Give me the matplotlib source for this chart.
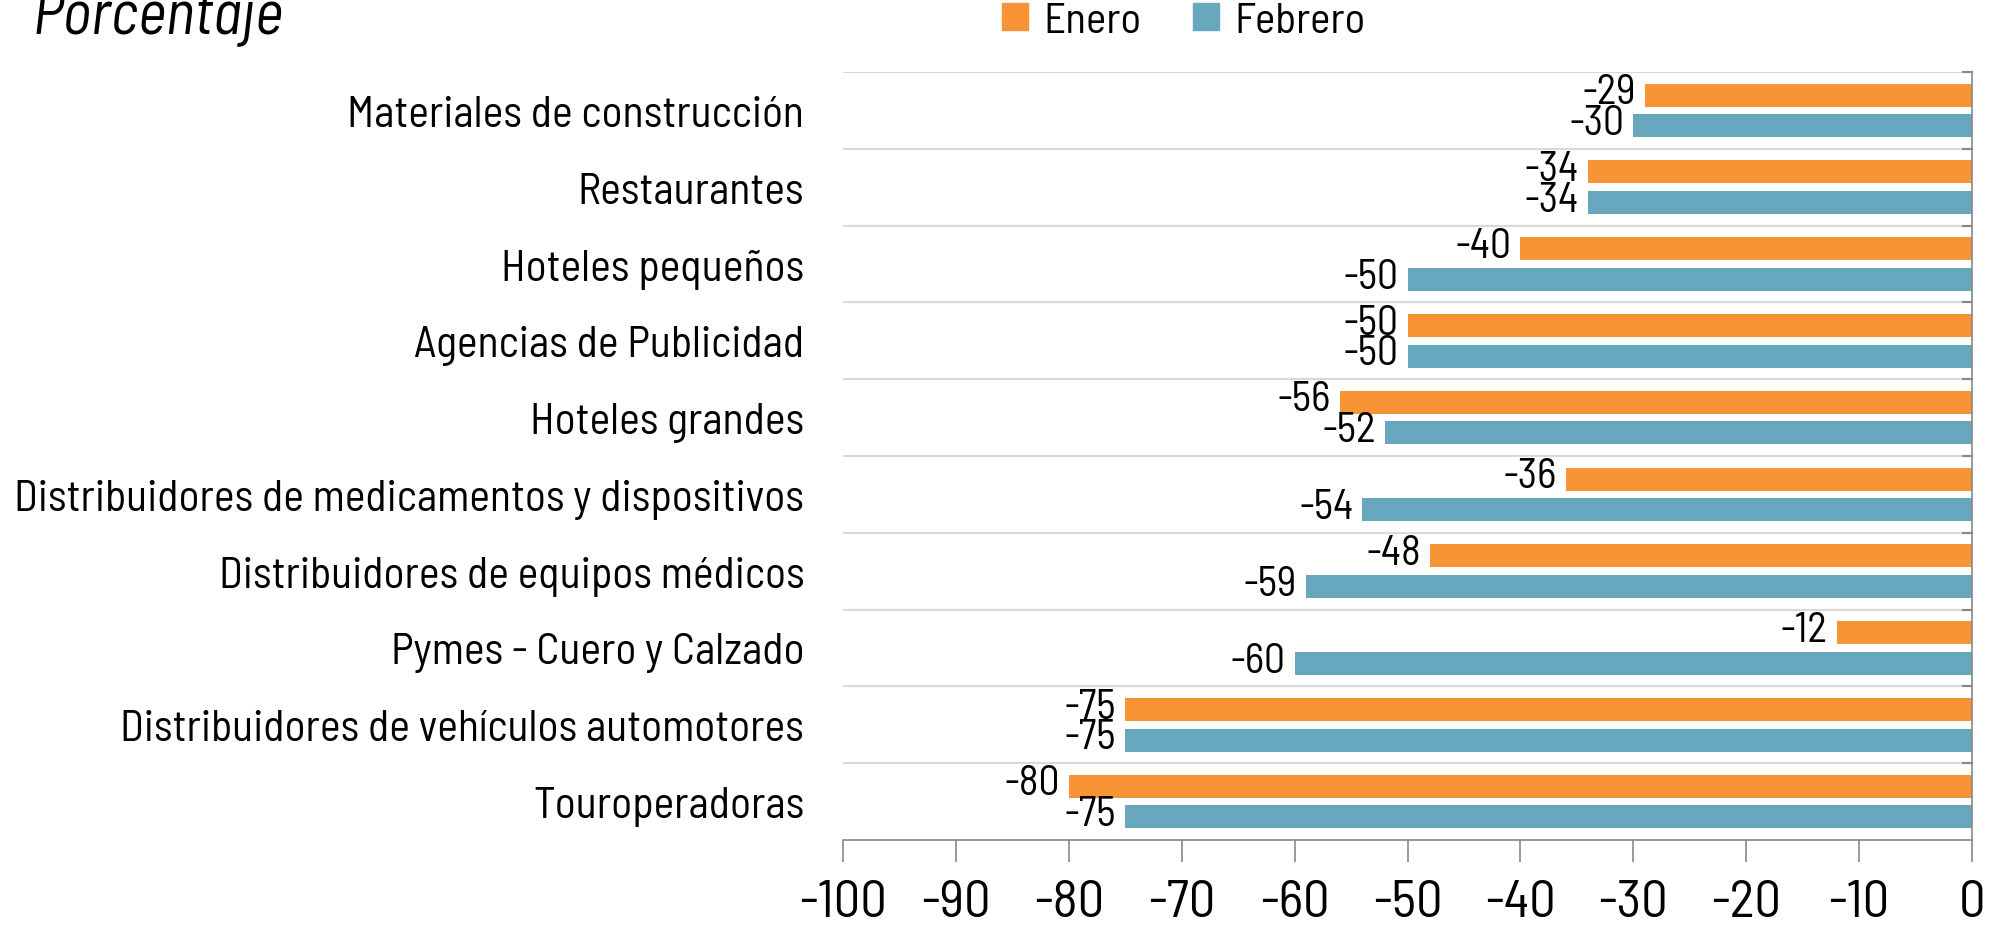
import numpy as np
import matplotlib.pyplot as plt
from matplotlib.patches import Patch

plt.rcParams['font.family'] = ['Barlow Semi Condensed', 'DejaVu Sans']

# data, top to bottom
categorias = ['Materiales de construcción', 'Restaurantes', 'Hoteles pequeños',
              'Agencias de Publicidad', 'Hoteles grandes',
              'Distribuidores de medicamentos y dispositivos',
              'Distribuidores de equipos médicos', 'Pymes - Cuero y Calzado',
              'Distribuidores de vehículos automotores', 'Touroperadoras']
enero = [-29, -34, -40, -50, -56, -36, -48, -12, -75, -80]
febrero = [-30, -34, -50, -50, -52, -54, -59, -60, -75, -75]
xticks = list(range(-100, 1, 10))

c_ene = '#F79536'
c_feb = '#67A8BE'

fig = plt.figure(figsize=(19.98, 9.28), dpi=100)
ax = fig.add_axes([0.422, 0.0938, 0.565, 0.8275])

y = np.arange(len(categorias))
h = 0.3
ax.barh(y - 0.2, enero, height=h, color=c_ene)
ax.barh(y + 0.2, febrero, height=h, color=c_feb)

for yi, v in zip(y - 0.2, enero):
    ax.text(v - 0.8, yi - 0.03, str(v), ha='right', va='center', fontsize=30)
for yi, v in zip(y + 0.2, febrero):
    ax.text(v - 0.8, yi - 0.03, str(v), ha='right', va='center', fontsize=30)

# gridlines between categories
for b in np.arange(-0.5, len(categorias) - 1, 1.0):
    ax.axhline(b, color='#d9d9d9', lw=1.5, zorder=0)
    ax.plot([-0.8, 0], [b, b], color='#888888', lw=1.5, clip_on=False)

ax.set_xlim(-100, 0)
ax.set_ylim(len(categorias) - 0.5, -0.5)
ax.set_xticks(xticks)
ax.set_xticklabels([str(t) for t in xticks], fontsize=38)
ax.set_yticks(y)
ax.set_yticklabels(categorias, fontsize=31.5)
ax.tick_params(axis='y', length=0, pad=28)
ax.tick_params(axis='x', length=16, width=1.2, color='#888888', pad=12)

for s in ['left', 'top']:
    ax.spines[s].set_visible(False)
ax.spines['bottom'].set_color('#888888')
ax.spines['right'].set_color('#888888')
ax.spines['bottom'].set_linewidth(1.2)
ax.spines['right'].set_linewidth(1.2)

fig.text(0.016, 0.963, 'Porcentaje', fontsize=44, style='italic')

handles = [Patch(color=c_ene, label='Enero'), Patch(color=c_feb, label='Febrero')]
fig.legend(handles=handles, loc='center', bbox_to_anchor=(0.5925, 0.976), ncol=2,
           frameon=False, fontsize=31, handlelength=0.6, handleheight=0.6,
           handletextpad=0.35, columnspacing=1.2)

fig.savefig('out.png', dpi=100)
